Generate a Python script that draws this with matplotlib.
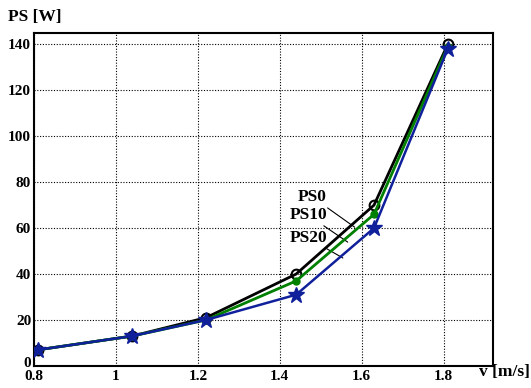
import matplotlib
matplotlib.use("Agg")
import matplotlib.pyplot as plt
import matplotlib.transforms as mtransforms

v = [0.81, 1.04, 1.22, 1.44, 1.63, 1.81]
ps0 = [7, 13, 21, 40, 70, 140]
ps10 = [7, 13, 20, 37, 66, 139]
ps20 = [7, 13, 20, 31, 60, 138]
xticks = [0.8, 1, 1.2, 1.4, 1.6, 1.8]
xticklabels = ["0.8", "1", "1.2", "1.4", "1.6", "1.8"]
yticks = [0, 20, 40, 60, 80, 100, 120, 140]

plt.rcParams['font.family'] = ['Liberation Serif', 'DejaVu Serif']
plt.rcParams['font.weight'] = 'bold'

fig = plt.figure(figsize=(5.31, 3.88), dpi=100)
ax = fig.add_axes([0.064, 0.057, 0.864, 0.858])

ax.plot(v, ps0, color='black', lw=2, marker='o', mfc='none', mec='black', ms=7, mew=1.5, zorder=3)
ax.plot(v, ps10, color='#008000', lw=2, marker='o', mfc='#008000', mec='#008000', ms=5, zorder=4)
ax.plot(v, ps20, color='#10209a', lw=1.8, marker='*', mfc='#10209a', mec='#10209a', ms=12, zorder=5)

ax.set_xlim(0.8, 1.92)
ax.set_ylim(0, 145)
ax.set_xticks(xticks)
ax.set_xticklabels(xticklabels)
ax.set_yticks(yticks)
ax.grid(True, color='black', linestyle=(0, (1, 1.5)), linewidth=0.8)
ax.tick_params(direction='in', length=0, labelsize=11)
ax.tick_params(axis='x', pad=3)
ax.tick_params(axis='y', pad=2)
for lbl in ax.get_xticklabels() + ax.get_yticklabels():
    lbl.set_fontweight('bold')
for s in ax.spines.values():
    s.set_linewidth(1.5)

# nudge the "0" y tick label slightly up so it does not collide with "0.8"
ylbl0 = ax.get_yticklabels()[0]
ylbl0.set_transform(ylbl0.get_transform() + mtransforms.ScaledTranslation(0, 2.5/72, fig.dpi_scale_trans))

ann = dict(ha='right', va='center', fontsize=12.5, fontweight='bold',
           arrowprops=dict(arrowstyle='-', color='black', lw=0.8, shrinkA=0, shrinkB=0))
ax.annotate('PS0', xy=(1.583, 60.4), xytext=(1.515, 73.5), **ann)
ax.annotate('PS10', xy=(1.566, 53.9), xytext=(1.515, 65.7), **ann)
ax.annotate('PS20', xy=(1.554, 47), xytext=(1.515, 55.7), **ann)

fig.text(8/531, 1 - 17/388, 'PS [W]', ha='left', va='center', fontsize=12.5, fontweight='bold')
fig.text(1 - 1/531, 1 - 372/388, 'v [m/s]', ha='right', va='center', fontsize=12.5, fontweight='bold')

fig.savefig('out.png', dpi=100)
